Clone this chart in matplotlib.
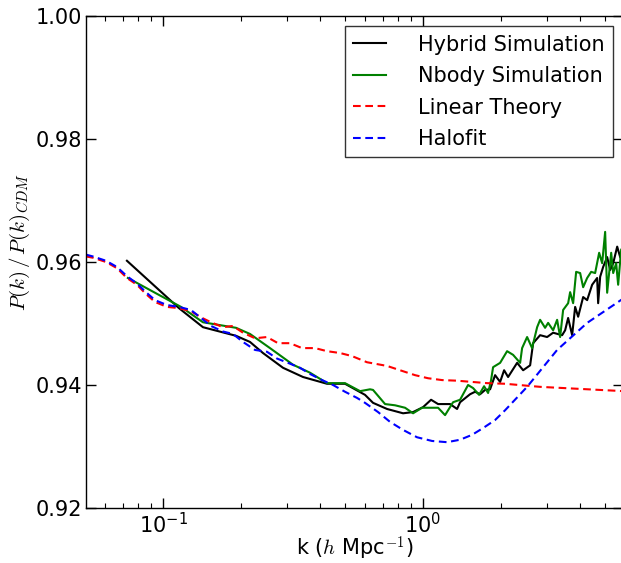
import matplotlib
matplotlib.use('Agg')
import matplotlib.pyplot as plt
from matplotlib.ticker import FixedLocator, FormatStrFormatter, LogLocator

plt.rcParams['mathtext.fontset'] = 'cm'
plt.rcParams['font.family'] = 'DejaVu Sans'

# Linear theory
k_lin = [0.0506, 0.0538, 0.0604, 0.0665, 0.0727, 0.0794, 0.0860, 0.0932, 0.1036, 0.1152,
         0.1281, 0.1400, 0.1530, 0.1701, 0.1858, 0.2031, 0.2259, 0.2512, 0.2769, 0.3079,
         0.3424, 0.3842, 0.4273, 0.4795, 0.5332, 0.6088, 0.7272, 0.8157, 0.9316, 1.0453,
         1.1834, 1.3514, 1.5434, 1.7628, 2.0675, 2.8184, 5.90]
r_lin = [0.9609, 0.9607, 0.9600, 0.9590, 0.9574, 0.9563, 0.9548, 0.9535, 0.9527, 0.9525,
         0.9520, 0.9510, 0.9502, 0.9494, 0.9496, 0.9485, 0.9476, 0.9478, 0.9468, 0.9468,
         0.9460, 0.9460, 0.9455, 0.9452, 0.9447, 0.9437, 0.9431, 0.9424, 0.9416, 0.9411,
         0.9408, 0.9407, 0.9405, 0.9403, 0.9402, 0.9397, 0.9390]

# Halofit
k_hf = [0.0506, 0.0538, 0.0604, 0.0665, 0.0727, 0.0794, 0.0860, 0.0932, 0.1036, 0.1152,
        0.1281, 0.1400, 0.1530, 0.1701, 0.1858, 0.2031, 0.2259, 0.2512, 0.2745, 0.3025,
        0.3364, 0.3675, 0.4088, 0.4506, 0.5012, 0.5574, 0.5981, 0.6713, 0.7466, 0.8377,
        0.9482, 1.0829, 1.2368, 1.3878, 1.5434, 1.7013, 1.8918, 2.0675, 2.5119, 3.2764,
        4.2740, 5.90]
r_hf = [0.9612, 0.9609, 0.9602, 0.9592, 0.9577, 0.9565, 0.9551, 0.9538, 0.9530, 0.9527,
        0.9522, 0.9509, 0.9496, 0.9487, 0.9483, 0.9470, 0.9457, 0.9454, 0.9443, 0.9436,
        0.9428, 0.9418, 0.9408, 0.9400, 0.9389, 0.9379, 0.9371, 0.9356, 0.9340, 0.9327,
        0.9315, 0.9309, 0.9307, 0.9311, 0.9319, 0.9330, 0.9343, 0.9359, 0.9397, 0.9457,
        0.9501, 0.9541]

# Hybrid simulation
k_hyb = [0.0727, 0.1152, 0.1425, 0.1909, 0.2161, 0.2424, 0.2894, 0.3455, 0.4273, 0.5012,
         0.5981, 0.6421, 0.7272, 0.8377, 0.9153, 1.0000, 1.0734, 1.1422, 1.2701, 1.3514,
         1.3878, 1.5162, 1.5849, 1.6568, 1.7318, 1.8101, 1.8918, 1.9780, 2.0490, 2.1228,
         2.2990, 2.4250, 2.5800, 2.6490, 2.8184, 2.9985, 3.1623, 3.4247, 3.5171, 3.6117,
         3.7421, 3.8429, 3.9465, 4.1251, 4.2740, 4.4668, 4.6691, 4.7108, 4.7953, 4.9247,
         5.1017, 5.2397, 5.3817, 5.5758, 5.7244]
r_hyb = [0.9602, 0.9525, 0.9494, 0.9480, 0.9470, 0.9452, 0.9428, 0.9413, 0.9402, 0.9402,
         0.9384, 0.9371, 0.9361, 0.9354, 0.9356, 0.9364, 0.9376, 0.9369, 0.9369, 0.9361,
         0.9372, 0.9385, 0.9389, 0.9385, 0.9392, 0.9393, 0.9416, 0.9405, 0.9424, 0.9413,
         0.9436, 0.9424, 0.9432, 0.9468, 0.9481, 0.9478, 0.9485, 0.9481, 0.9489, 0.9509,
         0.9481, 0.9527, 0.9511, 0.9543, 0.9538, 0.9563, 0.9574, 0.9533, 0.9576, 0.9592,
         0.9608, 0.9587, 0.9598, 0.9625, 0.9608]

# Nbody simulation
k_nb = [0.0733, 0.1173, 0.1425, 0.1909, 0.2161, 0.2579, 0.3162, 0.3675, 0.4273, 0.5012,
        0.5725, 0.6253, 0.6421, 0.7144, 0.7805, 0.8527, 0.9153, 0.9911, 1.0453, 1.1422,
        1.2150, 1.3043, 1.3878, 1.4896, 1.5571, 1.6421, 1.7163, 1.7783, 1.8261, 1.8586,
        1.9780, 2.1040, 2.2190, 2.3610, 2.4031, 2.5119, 2.6253, 2.7447, 2.8184, 2.9454,
        3.0255, 3.1623, 3.2764, 3.3645, 3.4551, 3.6117, 3.6763, 3.7753, 3.8771, 4.0171,
        4.1251, 4.2740, 4.4283, 4.5868, 4.7529, 4.8811, 5.0119, 5.1017, 5.2870, 5.3817,
        5.5260, 5.6234, 5.7754]
r_nb = [0.9574, 0.9527, 0.9502, 0.9493, 0.9483, 0.9460, 0.9433, 0.9420, 0.9403, 0.9403,
        0.9390, 0.9393, 0.9392, 0.9369, 0.9367, 0.9363, 0.9354, 0.9363, 0.9363, 0.9363,
        0.9351, 0.9372, 0.9376, 0.9400, 0.9395, 0.9384, 0.9398, 0.9387, 0.9408, 0.9429,
        0.9436, 0.9455, 0.9449, 0.9436, 0.9460, 0.9478, 0.9460, 0.9494, 0.9506, 0.9493,
        0.9501, 0.9489, 0.9506, 0.9478, 0.9522, 0.9533, 0.9551, 0.9533, 0.9584, 0.9582,
        0.9559, 0.9574, 0.9584, 0.9582, 0.9615, 0.9598, 0.9649, 0.9550, 0.9615, 0.9582,
        0.9598, 0.9563, 0.9620]

y_ticks = [0.92, 0.94, 0.96, 0.98, 1.00]

fig = plt.figure(figsize=(6.21, 5.63), dpi=100)
ax = fig.add_axes([86 / 621, 55 / 563, 537 / 621, 492 / 563])

ax.plot(k_hyb, r_hyb, color='k', lw=1.5, label='Hybrid Simulation')
ax.plot(k_nb, r_nb, color='g', lw=1.5, label='Nbody Simulation')
ax.plot(k_lin, r_lin, color='r', lw=1.5, ls=(0, (3.7, 2.2)), label='Linear Theory')
ax.plot(k_hf, r_hf, color='b', lw=1.5, ls=(0, (3.7, 2.2)), label='Halofit')

ax.set_xscale('log')
ax.set_xlim(0.0506, 5.87)
ax.set_ylim(0.92, 1.00)
ax.yaxis.set_major_locator(FixedLocator(y_ticks))
ax.yaxis.set_major_formatter(FormatStrFormatter('%.2f'))
ax.xaxis.set_minor_locator(LogLocator(base=10, subs=range(2, 10)))

ax.tick_params(which='both', direction='in', top=True, right=True, labelsize=15)
ax.tick_params(which='major', length=7, width=1)
ax.tick_params(which='minor', length=3.5, width=0.8)
ax.tick_params(axis='x', pad=3)
ax.tick_params(axis='y', pad=3)
for s in ax.spines.values():
    s.set_linewidth(1)

ax.set_xlabel(r'k ($h$ Mpc$^{-1}$)', fontsize=15, labelpad=-2)
ax.set_ylabel(r'$P(k)\,/\,P(k)_{CDM}$', fontsize=15)
ax.yaxis.set_label_coords(-0.10, 0.54)

leg = ax.legend(loc='upper right', fontsize=15, handlelength=1.6, handletextpad=1.5,
                labelspacing=0.55, borderpad=0.4, borderaxespad=0.5, fancybox=False)
leg.get_frame().set_edgecolor('k')
leg.get_frame().set_linewidth(1)

fig.savefig('out.png', dpi=100)
